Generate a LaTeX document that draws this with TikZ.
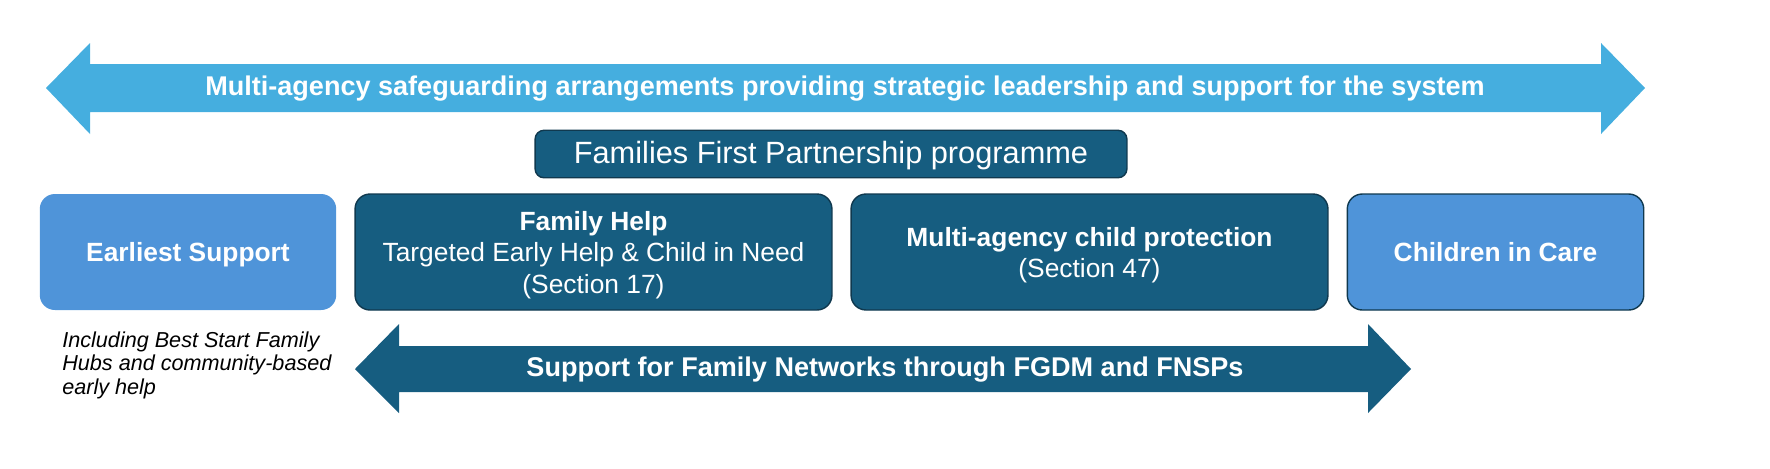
\documentclass[tikz,border=0pt]{standalone}
\usepackage{fontspec}
\setmainfont{Liberation Sans}
\definecolor{skyarrow}{HTML}{45AEDF}
\definecolor{lightstage}{HTML}{4F94D9}
\definecolor{darkstage}{HTML}{165D80}
\definecolor{stageline}{HTML}{10394F}
\tikzset{
  stagebox/.style={rounded corners=0.3cm, minimum height=2.32cm, inner sep=0pt,
    text=white, align=center, font=\fontsize{15}{18}\selectfont},
  lightbox/.style={stagebox, fill=lightstage, minimum width=5.93cm, text depth=0pt,
    font=\fontsize{15}{18}\selectfont\bfseries},
  darkbox/.style={stagebox, fill=darkstage, draw=stageline, line width=0.8pt, minimum width=9.54cm},
  stagetext/.style={text=white, align=center, inner sep=0pt, font=\fontsize{15}{18}\selectfont},
  arrowtext/.style={text=white, font=\fontsize{15.4}{18}\selectfont\bfseries}
}

\begin{document}
\begin{tikzpicture}[x=0.02cm, y=-0.02cm]
\useasboundingbox (0,0) rectangle (1770,468);
% strategic arrow
\fill[skyarrow] (46,88) -- (90,43) -- (90,64) -- (1601,64) -- (1601,43) -- (1645,88)
  -- (1601,134) -- (1601,112) -- (90,112) -- (90,134) -- cycle;
\node[arrowtext] (safeguarding) at (845,89)
  {Multi-agency safeguarding arrangements providing strategic leadership and support for the system};
% partnership programme
\node[stagebox, fill=darkstage, draw=stageline, line width=0.8pt, minimum width=11.84cm,
  minimum height=0.95cm, rounded corners=0.18cm, font=\fontsize{17.5}{20}\selectfont]
  (programme) at (831,154) {};
\node[stagetext, font=\fontsize{17.5}{20}\selectfont] (programmetext)
  at ([yshift=-0.04cm]programme.center) {Families First Partnership programme};
% stages
\node[lightbox] (earliest) at (188,252) {Earliest Support};
\node[darkbox] (familyhelp) at (593.5,252) {};
\node[stagetext] (familyhelptext) at ([yshift=-0.06cm]familyhelp.center)
  {\textbf{Family Help}\\Targeted Early Help \& Child in Need\\(Section 17)};
\node[darkbox] (protection) at (1089.5,252) {};
\node[stagetext] (protectiontext) at ([yshift=-0.06cm]protection.center)
  {\textbf{Multi-agency child protection}\\(Section 47)};
\node[lightbox, draw=stageline, line width=0.8pt] (incare) at (1495.5,252) {Children in Care};
\node[anchor=north west, align=left, inner sep=0pt, font=\fontsize{12.3}{13.5}\selectfont\itshape]
  (hubs) at (62,331) {Including Best Start Family\\Hubs and community-based\\early help};
% family networks arrow
\fill[darkstage] (355,369) -- (399,324) -- (399,346) -- (1368,346) -- (1368,324) -- (1411,369)
  -- (1368,413) -- (1368,392) -- (399,392) -- (399,413) -- cycle;
\node[arrowtext] (networks) at (885,370) {Support for Family Networks through FGDM and FNSPs};
\end{tikzpicture}
\end{document}
